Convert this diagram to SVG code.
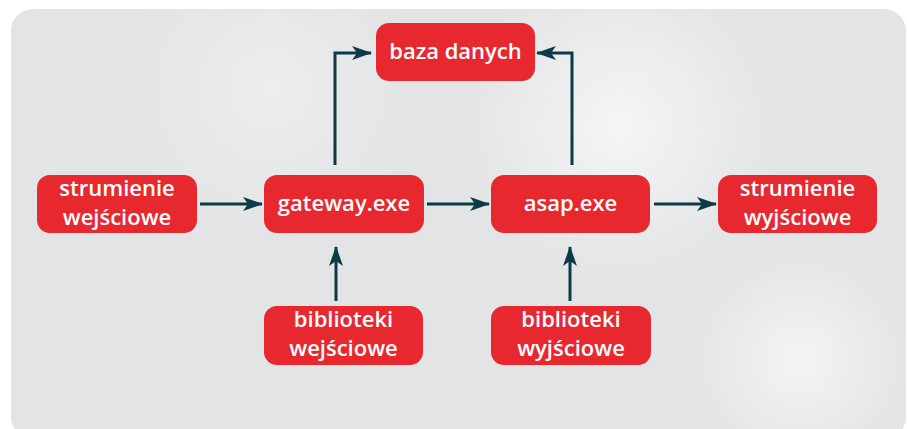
<svg xmlns="http://www.w3.org/2000/svg" width="907" height="429" viewBox="0 0 907 429">
  <defs>
    <radialGradient id="glow1" cx="620" cy="125" r="160" gradientUnits="userSpaceOnUse">
      <stop offset="0" stop-color="#f4f5f6"/>
      <stop offset="1" stop-color="#f4f5f6" stop-opacity="0"/>
    </radialGradient>
    <radialGradient id="glow2" cx="800" cy="360" r="110" gradientUnits="userSpaceOnUse">
      <stop offset="0" stop-color="#f3f4f5"/>
      <stop offset="1" stop-color="#f3f4f5" stop-opacity="0"/>
    </radialGradient>
    <radialGradient id="glow3" cx="270" cy="90" r="150" gradientUnits="userSpaceOnUse">
      <stop offset="0" stop-color="#eceded"/>
      <stop offset="1" stop-color="#eceded" stop-opacity="0"/>
    </radialGradient>
    <marker id="arr" viewBox="0 0 20 14" refX="19" refY="7" markerWidth="20" markerHeight="14" markerUnits="userSpaceOnUse" orient="auto">
      <path d="M0,0 L20,7 L0,14 L5,7 Z" fill="#0d3a47"/>
    </marker>
  </defs>
  <style>
    .node rect { fill: #e8282f; }
    .node text { fill: #ffffff; font-family: "Open Sans", "Noto Sans", "DejaVu Sans", sans-serif; font-size: 22px; font-weight: 600; text-anchor: middle; }
    .conn path { fill: none; stroke: #0d3a47; stroke-width: 3; marker-end: url(#arr); }
  </style>
  <rect x="11" y="9" width="895" height="430" rx="22" fill="#e3e4e6"/>
  <rect x="11" y="9" width="895" height="430" rx="22" fill="url(#glow3)"/>
  <rect x="11" y="9" width="895" height="430" rx="22" fill="url(#glow1)"/>
  <rect x="11" y="9" width="895" height="430" rx="22" fill="url(#glow2)"/>

  <g id="connectors" class="conn">
    <path d="M200,204 H262"/>
    <path d="M427,204 H489"/>
    <path d="M654,204 H716"/>
    <path d="M335,165 V53 H371"/>
    <path d="M572,165 V53 H537"/>
    <path d="M336,301 V247"/>
    <path d="M570,301 V247"/>
  </g>

  <g id="baza" class="node">
    <rect x="376" y="23" width="159" height="58" rx="13"/>
    <text x="455.5" y="59">baza danych</text>
  </g>
  <g id="strumienie-wejsciowe" class="node">
    <rect x="37" y="175" width="160" height="58" rx="13"/>
    <text x="117" y="196">strumienie</text>
    <text x="117" y="225">wejściowe</text>
  </g>
  <g id="gateway" class="node">
    <rect x="264" y="175" width="160" height="58" rx="13"/>
    <text x="344" y="211">gateway.exe</text>
  </g>
  <g id="asap" class="node">
    <rect x="491" y="175" width="159" height="58" rx="13"/>
    <text x="570.5" y="211">asap.exe</text>
  </g>
  <g id="strumienie-wyjsciowe" class="node">
    <rect x="718" y="175" width="159" height="58" rx="13"/>
    <text x="797.5" y="196">strumienie</text>
    <text x="797.5" y="225">wyjściowe</text>
  </g>
  <g id="biblioteki-wejsciowe" class="node">
    <rect x="264" y="306" width="159" height="59" rx="13"/>
    <text x="343.5" y="327">biblioteki</text>
    <text x="343.5" y="356">wejściowe</text>
  </g>
  <g id="biblioteki-wyjsciowe" class="node">
    <rect x="491" y="306" width="160" height="59" rx="13"/>
    <text x="571" y="327">biblioteki</text>
    <text x="571" y="356">wyjściowe</text>
  </g>
</svg>
